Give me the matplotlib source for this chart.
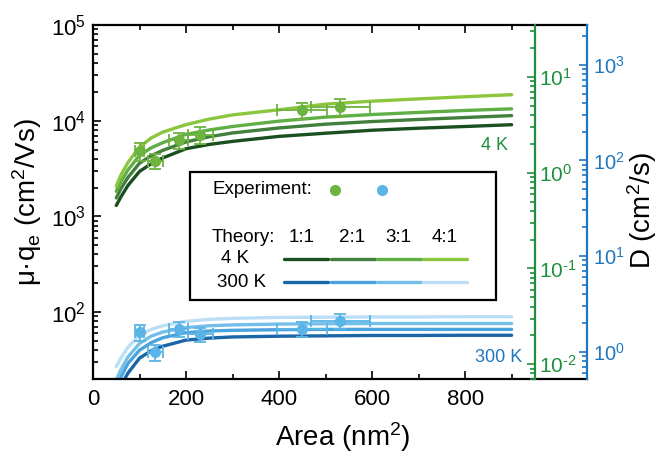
import matplotlib
matplotlib.use("Agg")
import numpy as np
import matplotlib.pyplot as plt
from matplotlib.ticker import FixedLocator, LogLocator, NullFormatter, FuncFormatter
from matplotlib.patches import Rectangle

plt.rcParams["font.family"] = ["Liberation Sans", "DejaVu Sans"]
plt.rcParams["mathtext.default"] = "regular"

# --- data ---
ratios = ["1:1", "2:1", "3:1", "4:1"]

curve_x = [50, 60, 75, 100, 125, 150, 200, 250, 300, 400, 500, 600, 700, 800, 900]

theory_4k = [
    [1300, 1600, 2100, 2950, 3550, 4080, 5100, 5650, 6080, 6860, 7400, 7950, 8350, 8700, 9080],
    [1560, 1950, 2550, 3600, 4300, 4900, 6000, 6800, 7450, 8400, 9200, 9800, 10300, 10800, 11300],
    [1830, 2300, 3050, 4350, 5200, 5900, 7200, 8000, 8700, 9900, 10900, 11600, 12200, 12800, 13300],
    [2070, 2700, 3650, 5300, 6600, 7600, 9100, 10400, 11500, 13000, 14900, 16000, 16900, 17800, 18700],
]
theory_300k = [
    [13, 17, 23, 33, 39.5, 44, 51, 53.5, 55, 56, 56.5, 57, 57, 57.3, 57.3],
    [16, 21, 29, 40, 48, 54, 61, 63.5, 64.5, 65.5, 66, 66, 66, 66, 66],
    [19.5, 25, 34, 47, 56, 62, 69, 72, 73.5, 75, 75.5, 76, 76, 76, 76],
    [27, 33, 43, 57, 66, 72, 80, 84, 86, 88, 88.5, 89, 89, 89.5, 89.5],
]

exp_area = [100, 134, 184, 231, 449, 532]
exp_area_err = [10, 16, 21, 27, 53, 64]
exp_4k = [4790, 3820, 6240, 7100, 12900, 14000]
exp_4k_err = [1000, 700, 1200, 1400, 2500, 2700]
exp_300k = [62, 38, 67, 59, 67, 81]
exp_300k_err = [12, 7, 12, 10, 12, 15]

green_shades = ["#1a4f20", "#437f3c", "#5fae46", "#8cc63e"]
blue_shades = ["#1a66a8", "#4aa3dd", "#74bfe9", "#b9def5"]
green_exp = "#6db33f"
blue_exp = "#5ab5e6"
green_axis = "#1f8f3f"
blue_axis = "#2176bf"


def pow10(v, pos):
    # short hyphen for negative exponents, like the original figure
    e = int(round(np.log10(v)))
    sign = "\u2010" if e < 0 else ""
    return "10$^{%s%d}$" % (sign, abs(e))


def style_log_axis(a, color, size, pad):
    a.set_yscale("log")
    a.yaxis.set_major_locator(LogLocator(base=10))
    a.yaxis.set_minor_locator(LogLocator(base=10, subs=range(2, 10)))
    a.yaxis.set_major_formatter(FuncFormatter(pow10))
    a.yaxis.set_minor_formatter(NullFormatter())
    a.tick_params(which="both", direction="in", colors=color, labelsize=size, width=1.2, pad=pad)
    a.tick_params(which="major", length=6)
    a.tick_params(which="minor", length=3.5)


fig = plt.figure(figsize=(6.59, 4.58), dpi=100)
ax = fig.add_axes([93 / 659, 1 - 379 / 458, 494 / 659, 354 / 458])

for ys, c in zip(theory_300k, blue_shades):
    ax.plot(curve_x, ys, color=c, lw=2.4, zorder=2, solid_capstyle="round")
for ys, c in zip(theory_4k, green_shades):
    ax.plot(curve_x, ys, color=c, lw=2.4, zorder=2, solid_capstyle="round")

ax.errorbar(exp_area, exp_4k, xerr=exp_area_err, yerr=exp_4k_err, fmt="o",
            color=green_exp, ms=7, elinewidth=1.3, capsize=4, capthick=1.3, zorder=3)
ax.errorbar(exp_area, exp_300k, xerr=exp_area_err, yerr=exp_300k_err, fmt="o",
            color=blue_exp, ms=7, elinewidth=1.3, capsize=4, capthick=1.3, zorder=3)

style_log_axis(ax, "black", 16, 5)
ax.set_xlim(0, 1062)
ax.set_ylim(20, 1e5)
ax.xaxis.set_major_locator(FixedLocator([0, 200, 400, 600, 800]))
ax.xaxis.set_minor_locator(FixedLocator([100, 300, 500, 700, 900]))
ax.tick_params(which="both", top=True, right=False)
ax.tick_params(axis="x", pad=7)
for s in ["left", "top", "bottom"]:
    ax.spines[s].set_linewidth(1.6)
ax.spines["right"].set_visible(False)

ax.set_xlabel("Area (nm$^2$)", fontsize=20)
ax.xaxis.set_label_coords(0.506, -0.115)
ax.set_ylabel("μ·q$_e$ (cm$^2$/Vs)", fontsize=20)
ax.yaxis.set_label_coords(-0.1, 0.5)

# green D axis (4 K)
axg = ax.twinx()
style_log_axis(axg, green_axis, 15, 3)
axg.set_ylim(20 * 3.5e-4, 1e5 * 3.5e-4)
axg.spines["right"].set_position(("axes", 950 / 1062))
for s in ["left", "top", "bottom"]:
    axg.spines[s].set_visible(False)
axg.spines["right"].set_color(green_axis)
axg.spines["right"].set_linewidth(1.6)

# blue D axis (300 K)
axb = ax.twinx()
style_log_axis(axb, blue_axis, 14.5, 4)
axb.set_ylim(20 * 0.026, 1e5 * 0.026)
for s in ["left", "top", "bottom"]:
    axb.spines[s].set_visible(False)
axb.spines["right"].set_color(blue_axis)
axb.spines["right"].set_linewidth(1.6)

fig.text(642 / 659, 1 - 210 / 458, "D (cm$^2$/s)", rotation=90, ha="center", va="center", fontsize=20)

# temperature tags
ax.text(0.840, 0.661, "4 K", transform=ax.transAxes, ha="right", va="center",
        color=green_axis, fontsize=13)
ax.text(0.868, 0.062, "300 K", transform=ax.transAxes, ha="right", va="center",
        color=blue_axis, fontsize=13)

# hand-built legend box
box = Rectangle((0.1964, 0.2232), 0.8158 - 0.1964, 0.5847 - 0.2232, transform=ax.transAxes,
                facecolor="white", edgecolor="black", lw=1.6, zorder=5)
ax.add_patch(box)
ax.text(0.241, 0.534, "Experiment:", transform=ax.transAxes, ha="left", va="center", fontsize=13.5, zorder=6)
ax.plot([0.4899], [0.534], "o", color=green_exp, ms=7, transform=ax.transAxes, zorder=6)
ax.plot([0.585], [0.534], "o", color=blue_exp, ms=7, transform=ax.transAxes, zorder=6)
ax.text(0.241, 0.401, "Theory:", transform=ax.transAxes, ha="left", va="center", fontsize=13.5, zorder=6)
label_x = [0.4231, 0.5243, 0.6174, 0.7126]
seg_x = [(0.3866, 0.4757), (0.4818, 0.5709), (0.5749, 0.664), (0.668, 0.757)]
for lab, lx in zip(ratios, label_x):
    ax.text(lx, 0.401, lab, transform=ax.transAxes, ha="center", va="center", fontsize=13.5, zorder=6)
ax.text(0.2874, 0.339, "4 K", transform=ax.transAxes, ha="center", va="center", fontsize=13.5, zorder=6)
ax.text(0.3016, 0.274, "300 K", transform=ax.transAxes, ha="center", va="center", fontsize=13.5, zorder=6)
for (x0, x1), gc, bc in zip(seg_x, green_shades, blue_shades):
    ax.plot([x0, x1], [0.339, 0.339], color=gc, lw=2.4, transform=ax.transAxes, zorder=6,
            solid_capstyle="round")
    ax.plot([x0, x1], [0.274, 0.274], color=bc, lw=2.4, transform=ax.transAxes, zorder=6,
            solid_capstyle="round")

fig.savefig("out.png", dpi=100)
